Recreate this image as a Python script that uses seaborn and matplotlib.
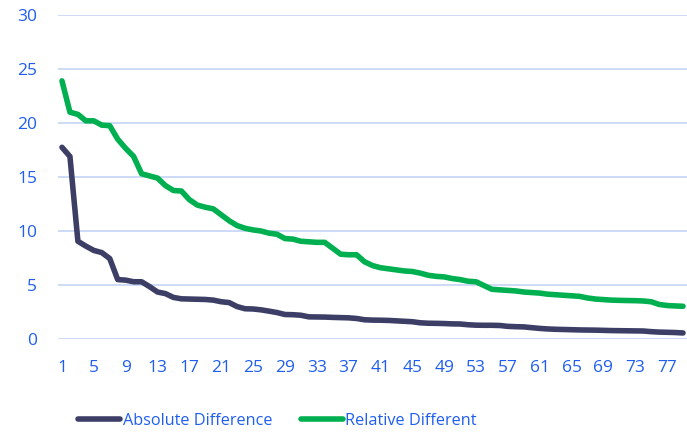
import numpy as np
import pandas as pd
import matplotlib
matplotlib.use("Agg")
import matplotlib.pyplot as plt
import seaborn as sns

# ---- data ----
ranks = list(range(1, 80))
absolute_difference = [
    17.75, 16.9, 9.05, 8.6, 8.2, 8.0, 7.45, 5.5, 5.45, 5.3,
    5.3, 4.85, 4.35, 4.2, 3.85, 3.72, 3.7, 3.68, 3.66, 3.6,
    3.45, 3.37, 3.0, 2.8, 2.78, 2.7, 2.58, 2.45, 2.27, 2.25,
    2.2, 2.05, 2.04, 2.03, 2.0, 1.98, 1.96, 1.9, 1.78, 1.75,
    1.74, 1.72, 1.68, 1.64, 1.6, 1.5, 1.46, 1.45, 1.43, 1.4,
    1.39, 1.32, 1.28, 1.27, 1.27, 1.25, 1.17, 1.14, 1.12, 1.05,
    0.98, 0.93, 0.9, 0.88, 0.86, 0.84, 0.83, 0.82, 0.8, 0.78,
    0.77, 0.76, 0.75, 0.74, 0.68, 0.64, 0.62, 0.6, 0.56,
]
relative_different = [
    23.9, 21.0, 20.8, 20.2, 20.2, 19.8, 19.75, 18.5, 17.65, 16.9,
    15.3, 15.1, 14.9, 14.2, 13.75, 13.7, 12.9, 12.4, 12.2, 12.05,
    11.5, 10.95, 10.5, 10.25, 10.1, 10.0, 9.8, 9.7, 9.3, 9.25,
    9.05, 9.0, 8.95, 8.95, 8.4, 7.85, 7.8, 7.8, 7.15, 6.8,
    6.6, 6.5, 6.4, 6.3, 6.25, 6.1, 5.9, 5.8, 5.75, 5.6,
    5.5, 5.35, 5.3, 4.95, 4.6, 4.55, 4.5, 4.45, 4.35, 4.3,
    4.25, 4.15, 4.1, 4.05, 4.0, 3.95, 3.8, 3.7, 3.65, 3.6,
    3.58, 3.56, 3.55, 3.52, 3.45, 3.2, 3.1, 3.06, 3.03,
]
series_names = ["Absolute Difference", "Relative Different"]
y_ticks = [0, 5, 10, 15, 20, 25, 30]
x_ticks = list(range(1, 80, 4))

df = pd.DataFrame({
    "rank": ranks * 2,
    "value": absolute_difference + relative_different,
    "series": [series_names[0]] * len(ranks) + [series_names[1]] * len(ranks),
})

# ---- style ----
sns.set_theme(style="white")
plt.rcParams["font.family"] = ["Open Sans", "DejaVu Sans"]
label_color = "#1f5ef0"
colors = {series_names[0]: "#3c3e66", series_names[1]: "#00b050"}

fig = plt.figure(figsize=(6.87, 4.37), dpi=100)
ax = fig.add_axes([58 / 687, 1 - 339 / 437, 1 - 58 / 687, (339 - 15) / 437])

sns.lineplot(data=df, x="rank", y="value", hue="series", palette=colors,
             linewidth=4.0, ax=ax, legend=True,
             solid_capstyle="round", solid_joinstyle="round")

ax.set_xlim(0.5, 79.5)
ax.set_ylim(0, 30)
ax.set_yticks(y_ticks)
ax.set_xticks(x_ticks)
ax.set_xlabel("")
ax.set_ylabel("")
ax.grid(axis="y", color="#c8d8f6", linewidth=1.3)
ax.grid(axis="x", visible=False)
ax.set_axisbelow(True)
for s in ax.spines.values():
    s.set_visible(False)
ax.tick_params(axis="y", length=0, pad=15, labelsize=12.5, labelcolor=label_color)
ax.tick_params(axis="x", length=0, pad=15, labelsize=12.5, labelcolor=label_color)

handles, labels = ax.get_legend_handles_labels()
ax.legend_.remove() if ax.legend_ else None
leg = fig.legend(handles, labels, loc="center left",
                 bbox_to_anchor=(78 / 687, 1 - 421 / 437),
                 bbox_transform=fig.transFigure,
                 ncol=2, frameon=False, fontsize=11.7, handlelength=2.6,
                 handletextpad=0.15, columnspacing=1.75,
                 borderpad=0, borderaxespad=0)
for t in leg.get_texts():
    t.set_color(label_color)
for h in leg.get_lines():
    h.set_linewidth(4.0)
    h.set_solid_capstyle("round")

fig.savefig("out.png", dpi=100)
